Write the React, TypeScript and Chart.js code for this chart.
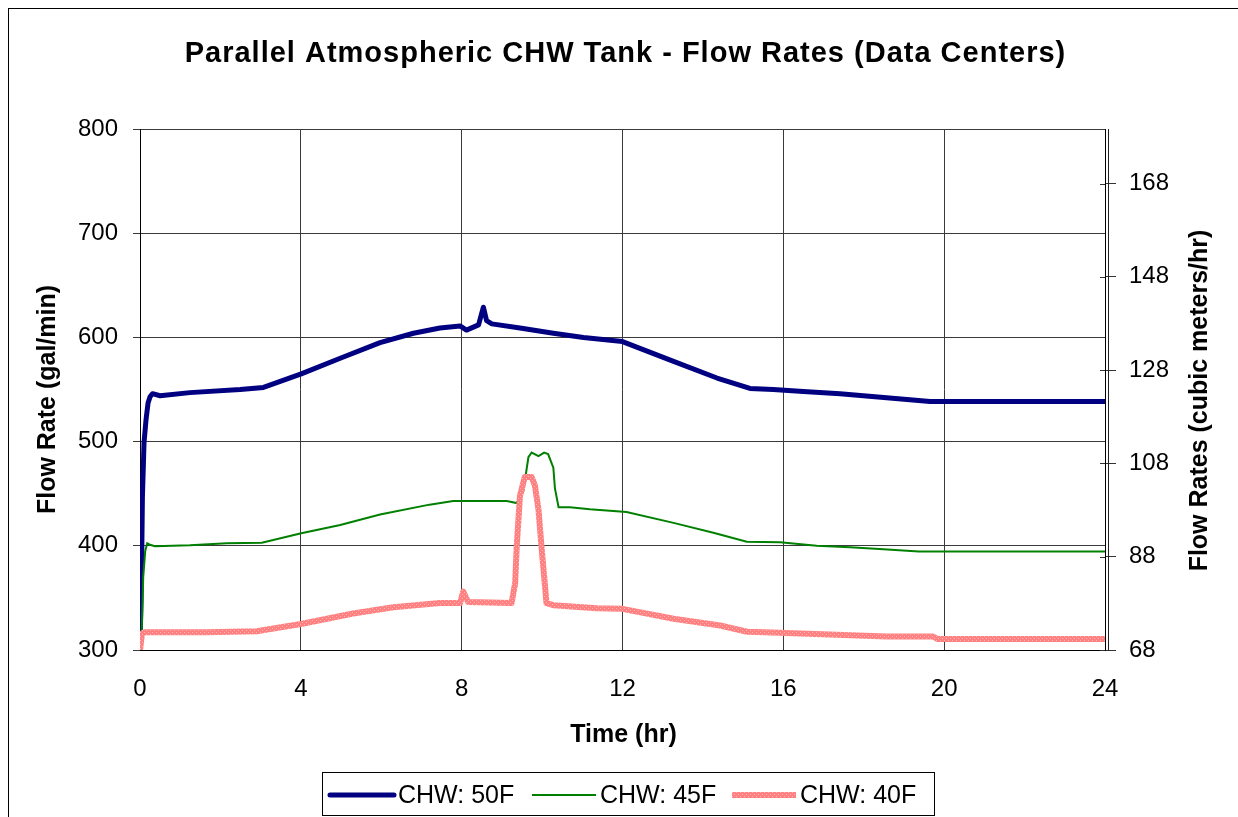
import React, { useEffect, useRef } from "react";
import { Chart, registerables } from "chart.js";

Chart.register(...registerables);

const TITLE = "Parallel Atmospheric CHW Tank - Flow Rates (Data Centers)";
const X_TITLE = "Time (hr)";
const Y_TITLE = "Flow Rate (gal/min)";
const Y2_TITLE = "Flow Rates (cubic meters/hr)";

const xTicks = [0, 4, 8, 12, 16, 20, 24];
const leftTicks = [300, 400, 500, 600, 700, 800];
const rightTicks = [68, 88, 108, 128, 148, 168];

const labels = ["CHW: 50F", "CHW: 45F", "CHW: 40F"];

const t50 = [0, 0.04, 0.06, 0.1, 0.15, 0.2, 0.25, 0.31, 0.5, 1.24, 2.49, 3.07, 4.01, 4.98, 5.97, 6.8, 7.46, 7.96, 8.12, 8.42, 8.54, 8.62, 8.75, 9.45, 10.28, 11.03, 12.0, 13.27, 14.35, 15.17, 15.75, 16.5, 17.41, 18.57, 19.65, 24];
const v50 = [301, 380, 447, 499, 521, 537, 543, 546, 544, 547, 550, 552, 565, 580, 595, 604, 609, 611, 607, 612, 629, 616, 613, 609, 604, 600, 596, 577, 561, 551, 550, 548, 546, 542, 538.5, 538.5];

const t45 = [0, 0.04, 0.08, 0.13, 0.18, 0.25, 0.37, 1.24, 2.16, 3.03, 4.01, 4.98, 5.97, 7.2, 7.79, 9.12, 9.37, 9.53, 9.66, 9.74, 9.91, 10.05, 10.15, 10.28, 10.32, 10.41, 10.69, 11.19, 12.1, 13.27, 14.26, 15.09, 15.92, 16.83, 17.66, 18.49, 19.37, 24];
const v45 = [305, 313, 370, 395, 402.5, 401, 399.5, 400.5, 402.5, 403, 412, 420, 430, 439.5, 443, 443, 441, 452, 485, 489.5, 486, 489.5, 488, 475, 455, 437, 437, 435, 432.5, 422, 412.5, 404, 403.5, 400, 398.5, 396.7, 394.5, 394.5];

const t40 = [0, 0.05, 0.12, 1.66, 2.9, 4.0, 5.3, 6.3, 7.46, 7.96, 8.04, 8.16, 9.24, 9.33, 9.37, 9.45, 9.57, 9.74, 9.82, 9.91, 9.99, 10.11, 10.28, 11.36, 12.0, 13.27, 14.43, 15.1, 15.92, 16.26, 17.5, 18.57, 19.73, 19.83, 24];
const v40 = [300, 316, 317, 317, 318, 325, 335, 341, 345, 345, 356, 346, 345, 364, 400, 448, 466, 466, 458, 435, 397, 345, 343, 340, 339.5, 330, 323.5, 317.5, 316.5, 316, 314.5, 313, 313, 310.6, 310.6];

const FONT = '"Liberation Sans", Arial, Helvetica, sans-serif';

const toPoints = (t: number[], v: number[]) => t.map((x, i) => ({ x, y: v[i] }));

export default function App() {
  const ref = useRef<HTMLCanvasElement | null>(null);

  useEffect(() => {
    document.documentElement.style.overflow = "hidden";
    document.body.style.overflow = "hidden";
    document.body.style.margin = "0";
    const canvas = ref.current!;
    const ctx2 = canvas.getContext("2d")!;

    const pc = document.createElement("canvas");
    pc.width = 4;
    pc.height = 4;
    const p = pc.getContext("2d")!;
    p.fillStyle = "#FF8080";
    p.fillRect(0, 0, 4, 4);
    p.fillStyle = "#FFB8B8";
    p.fillRect(1, 1, 1, 1);
    p.fillRect(3, 3, 1, 1);
    const pinkPattern = ctx2.createPattern(pc, "repeat")!;

    Chart.defaults.font.family = FONT;

    const decor = {
      id: "decor",
      afterDraw(chart: any) {
        const { ctx, chartArea } = chart;
        ctx.save();
        ctx.fillStyle = "#000";
        ctx.textAlign = "center";
        ctx.textBaseline = "middle";
        ctx.font = `bold 29px ${FONT}`;
        (ctx as any).letterSpacing = "1px";
        ctx.fillText(TITLE, (chartArea.left + chartArea.right) / 2 + 3, 45);
        (ctx as any).letterSpacing = "0px";

        ctx.font = `bold 25px ${FONT}`;
        ctx.fillText(X_TITLE, (chartArea.left + chartArea.right) / 2 + 1, 726);

        ctx.save();
        ctx.translate(39, (chartArea.top + chartArea.bottom) / 2 + 10);
        ctx.rotate(-Math.PI / 2);
        ctx.fillText(Y_TITLE, 0, 0);
        ctx.restore();

        ctx.save();
        ctx.translate(chartArea.right + 95, (chartArea.top + chartArea.bottom) / 2 + 11);
        ctx.rotate(-Math.PI / 2);
        ctx.fillText(Y2_TITLE, 0, 0);
        ctx.restore();

        // second (axis) line just right of the plot border
        ctx.strokeStyle = "#222";
        ctx.lineWidth = 1;
        ctx.beginPath();
        ctx.moveTo(chartArea.right + 3.5, chartArea.top);
        ctx.lineTo(chartArea.right + 3.5, chartArea.bottom + 1);
        ctx.stroke();

        // inward part of right-axis tick marks
        const y2 = chart.scales.y2;
        ctx.strokeStyle = "#333";
        for (const v of rightTicks) {
          const py = Math.round(y2.getPixelForValue(v)) + 0.5;
          ctx.beginPath();
          ctx.moveTo(chartArea.right - 5, py);
          ctx.lineTo(chartArea.right, py);
          ctx.stroke();
        }

        // legend
        const lx = 313, ly = 763, lw = 612, lh = 43;
        ctx.fillStyle = "#fff";
        ctx.fillRect(lx, ly, lw, lh);
        ctx.strokeStyle = "#000";
        ctx.lineWidth = 1;
        ctx.strokeRect(lx + 0.5, ly + 0.5, lw, lh);
        const lineStarts = [8, 210, 410];
        const cy = ly + 23;
        chart.data.datasets.forEach((ds: any, i: number) => {
          const x0 = lx + lineStarts[i];
          ctx.strokeStyle = ds.borderColor;
          ctx.lineWidth = ds.borderWidth;
          ctx.lineCap = i === 0 ? "round" : "butt";
          ctx.beginPath();
          ctx.moveTo(x0, cy);
          ctx.lineTo(x0 + 64, cy);
          ctx.stroke();
          ctx.fillStyle = "#000";
          ctx.textAlign = "left";
          ctx.textBaseline = "middle";
          ctx.font = `25px ${FONT}`;
          ctx.fillText(ds.label, x0 + 68, cy + 1);
        });
        ctx.restore();
      },
    };

    const setTicks = (arr: number[]) => (scale: any) => {
      scale.ticks = arr.map((v) => ({ value: v }));
    };

    const chart = new Chart(canvas, {
      type: "line",
      data: {
        datasets: [
          {
            label: labels[0],
            data: toPoints(t50, v50),
            borderColor: "#000080",
            borderWidth: 5,
            pointRadius: 0,
            tension: 0,
            borderJoinStyle: "round",
            borderCapStyle: "round",
            order: 2,
            yAxisID: "y",
          },
          {
            label: labels[1],
            data: toPoints(t45, v45),
            borderColor: "#008000",
            borderWidth: 2,
            pointRadius: 0,
            tension: 0,
            order: 1,
            yAxisID: "y",
          },
          {
            label: labels[2],
            data: toPoints(t40, v40),
            borderColor: pinkPattern as any,
            borderWidth: 6,
            pointRadius: 0,
            tension: 0,
            borderJoinStyle: "round",
            order: 0,
            yAxisID: "y",
          },
        ],
      },
      options: {
        animation: false,
        responsive: false,
        devicePixelRatio: 1,
        layout: { padding: { top: 120, left: 0, right: 0, bottom: 0 } },
        plugins: {
          legend: { display: false },
          tooltip: { enabled: false },
          title: { display: false },
        },
        scales: {
          x: {
            type: "linear",
            position: "bottom",
            min: 0,
            max: 24,
            afterBuildTicks: setTicks(xTicks),
            afterFit: (s: any) => {
              s.height = 167;
            },
            ticks: { color: "#000", font: { size: 24 }, padding: 25, maxRotation: 0 },
            grid: { color: "#3a3a3a", lineWidth: 1, drawTicks: false },
            border: { color: "#000", width: 1 },
          },
          y: {
            type: "linear",
            position: "left",
            min: 300,
            max: 800,
            afterBuildTicks: setTicks(leftTicks),
            afterFit: (s: any) => {
              s.width = 131;
            },
            ticks: { color: "#000", font: { size: 24 }, padding: 15 },
            grid: { color: "#3a3a3a", lineWidth: 1, drawTicks: true, tickLength: 7 },
            border: { color: "#000", width: 1 },
          },
          y2: {
            type: "linear",
            position: "right",
            min: 68,
            max: 179.7,
            afterBuildTicks: setTicks(rightTicks),
            afterFit: (s: any) => {
              s.width = 133;
            },
            ticks: { color: "#000", font: { size: 24 }, padding: 13 },
            grid: { drawOnChartArea: false, color: "#333", drawTicks: true, tickLength: 11 },
            border: { color: "#000", width: 1 },
          },
        },
      },
      plugins: [decor],
    });

    return () => {
      chart.destroy();
    };
  }, []);

  return (
    <div
      style={{
        position: "fixed",
        left: 8,
        top: 8,
        borderLeft: "1px solid #000",
        borderTop: "1px solid #000",
        width: 1240,
        height: 820,
        overflow: "hidden",
        background: "#fff",
      }}
    >
      <canvas ref={ref} width={1229} height={808} style={{ display: "block" }} />
    </div>
  );
}
